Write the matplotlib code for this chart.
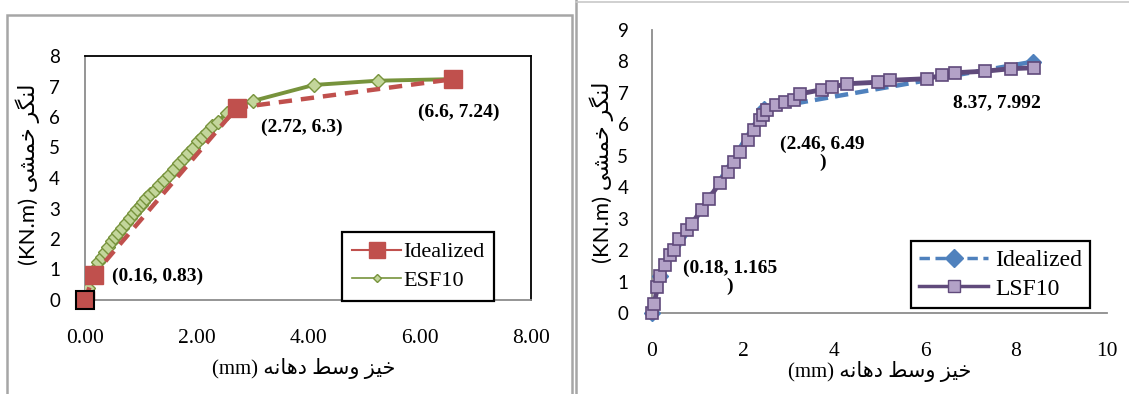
from matplotlib import pyplot as plt, ticker
from matplotlib.lines import Line2D
from matplotlib.patches import Rectangle
import numpy as np

# left chart: ESF10
ESF_IDEAL_X = [0, 0.16, 2.72, 6.6]
ESF_IDEAL_Y = [0, 0.83, 6.3, 7.24]
ESF10_X = [0, 0.06, 0.12, 0.18, 0.24, 0.30, 0.36, 0.42, 0.48, 0.54, 0.60, 0.67,
           0.74, 0.80, 0.87, 0.94, 1.00, 1.04, 1.10, 1.17, 1.26, 1.33, 1.41, 1.50,
           1.59, 1.68, 1.77, 1.85, 1.93, 2.03, 2.10, 2.18, 2.28, 2.39, 2.54, 2.70,
           3.02, 4.10, 5.25, 6.55]
ESF10_Y = [0, 0.38, 0.75, 1.02, 1.26, 1.42, 1.58, 1.75, 1.92, 2.05, 2.20, 2.35,
           2.52, 2.70, 2.84, 2.98, 3.10, 3.22, 3.35, 3.47, 3.61, 3.76, 3.93, 4.10,
           4.30, 4.48, 4.65, 4.82, 4.98, 5.20, 5.36, 5.52, 5.70, 5.85, 6.14, 6.35,
           6.53, 7.05, 7.19, 7.24]
ESF_LABELS = ['(0.16, 0.83)', '(2.72, 6.3)', '(6.6, 7.24)']
ESF_LABEL_OFFSETS = [(46, -1.5), (47, -14), (4.5, -24)]

# right chart: LSF10
LSF_IDEAL_X = [0, 0.18, 2.46, 8.37]
LSF_IDEAL_Y = [0, 1.165, 6.49, 7.992]
LSF10_X = [0, 0.05, 0.12, 0.18, 0.29, 0.40, 0.49, 0.59, 0.76, 0.87, 1.09, 1.25,
           1.49, 1.66, 1.80, 1.93, 2.12, 2.24, 2.37, 2.45, 2.52, 2.73, 2.92, 3.11,
           3.25, 3.73, 3.95, 4.28, 4.97, 5.23, 6.04, 6.37, 6.66, 7.32, 7.89, 8.40]
LSF10_Y = [0, 0.29, 0.84, 1.17, 1.52, 1.84, 2.00, 2.34, 2.63, 2.83, 3.29, 3.64,
           4.14, 4.49, 4.79, 5.12, 5.49, 5.81, 6.13, 6.29, 6.44, 6.60, 6.71, 6.78,
           6.97, 7.10, 7.18, 7.29, 7.34, 7.40, 7.45, 7.56, 7.64, 7.69, 7.77, 7.80]
LSF_LABELS = ['(0.18, 1.165\n)', '(2.46, 6.49\n)', '8.37, 7.992']
LSF_LABEL_OFFSETS = [(50, -1), (42, -32), (-26, -29.5)]

# Persian labels written in visual order with presentation forms
XLABEL = '(mm) \uFEEA\uFEE7\uFE8E\uFEEB\uFEA9 \uFEC2\uFEB3\uFEED \uFEB0\uFEF4\uFEA7'
YLABEL = '(KN.m) \uFEF0\uFEB8\uFEE4\uFEA7 \uFEAE\uFB95\uFEE8\uFEDF'

SANS = ['Lato', 'DejaVu Sans']
SERIF = ['Liberation Serif', 'DejaVu Sans']


def style_axes(ax, xmax, ymax, step):
    '''Common axis look: grey axis lines, no tick marks'''
    ax.set_xlim(0, xmax)
    ax.set_ylim(0, ymax)
    ax.xaxis.set_major_locator(ticker.MultipleLocator(step))
    ax.yaxis.set_major_locator(ticker.MultipleLocator(1))
    ax.tick_params(length=0)
    for lab in ax.get_yticklabels():
        lab.set_fontfamily(SANS)
        lab.set_fontsize(13.5)
    for lab in ax.get_xticklabels():
        lab.set_fontfamily(SERIF)
        lab.set_fontsize(15.5)
    for side in ('left', 'bottom'):
        ax.spines[side].set_color('#8c8c8c')
        ax.spines[side].set_linewidth(1.3)


def set_labels(ax, xpos, ypos):
    ax.set_xlabel(XLABEL, fontsize=15, family=SERIF)
    ax.set_ylabel(YLABEL, fontsize=16, family=SANS)
    ax.xaxis.set_label_coords(*xpos)
    ax.yaxis.set_label_coords(*ypos)
    ax.xaxis.label.set_va('center')
    ax.yaxis.label.set_va('center')


def annotate(ax, xs, ys, labels, offsets):
    for x, y, text, off in zip(xs[1:], ys[1:], labels, offsets):
        ax.annotate(text, (x, y), xytext=off, textcoords='offset points',
                    ha='center', va='center', fontsize=14, fontweight='bold',
                    family='Liberation Serif', linespacing=1.05)


def plot_left(fig):
    ax = fig.add_axes([85 / 1129, 1 - 300 / 394, 446 / 1129, 244 / 394])
    ax.plot(ESF10_X, ESF10_Y, color='#77933C', lw=2.8, marker='D', ms=7,
            mfc='#C3D69B', mec='#77933C', mew=1.0, zorder=3)
    ax.plot(ESF_IDEAL_X, ESF_IDEAL_Y, color='#C0504D', lw=3.2, ls=(0, (3, 2)),
            marker='s', ms=12.5, mfc='#C0504D', mec='#C0504D', zorder=4)
    ax.plot(ESF_IDEAL_X[:1], ESF_IDEAL_Y[:1], ls='none', marker='s', ms=12.5,
            mfc='#C0504D', mec='black', mew=1.5, zorder=5, clip_on=False)
    style_axes(ax, 8, 8, 2)
    ax.xaxis.set_major_formatter(ticker.FormatStrFormatter('%.2f'))
    for side in ('top', 'right'):
        ax.spines[side].set_color('black')
        ax.spines[side].set_linewidth(1.3)
    ax.tick_params(axis='y', pad=18)
    ax.tick_params(axis='x', pad=21)
    set_labels(ax, (0.49, -0.279), (-0.128, 0.516))
    annotate(ax, ESF_IDEAL_X, ESF_IDEAL_Y, ESF_LABELS, ESF_LABEL_OFFSETS)

    handles = [
        Line2D([], [], color='#C0504D', lw=1.5, marker='s', ms=11,
               mfc='#C0504D', mec='#C0504D'),
        Line2D([], [], color='#77933C', lw=1.2, marker='D', ms=4,
               mfc='#C3D69B', mec='#77933C'),
    ]
    leg = ax.legend(handles, ['Idealized', 'ESF10'], loc='upper right',
                    bbox_to_anchor=(0.918, 0.279), borderaxespad=0,
                    prop={'family': 'Liberation Serif', 'size': 16},
                    handlelength=2.2, handletextpad=0.1, labelspacing=0.35,
                    borderpad=0.45, fancybox=False, framealpha=1)
    leg.get_frame().set_edgecolor('black')
    leg.get_frame().set_linewidth(1.6)
    leg.set_zorder(6)


def plot_right(fig):
    ax = fig.add_axes([652 / 1129, 1 - 313 / 394, 455 / 1129, 283 / 394])
    ax.plot(LSF_IDEAL_X, LSF_IDEAL_Y, color='#4F81BD', lw=3.2, ls=(0, (3, 1.6)),
            marker='D', ms=8.5, mfc='#4F81BD', mec='#4F81BD', zorder=3,
            clip_on=False)
    ax.plot(LSF10_X, LSF10_Y, color='#604A7B', lw=3.5, marker='s', ms=8,
            mfc='#B3A2C7', mec='#604A7B', mew=1.2, zorder=4, clip_on=False)
    style_axes(ax, 10, 9, 2)
    for side in ('top', 'right'):
        ax.spines[side].set_visible(False)
    ax.tick_params(axis='y', pad=17)
    ax.tick_params(axis='x', pad=21)
    set_labels(ax, (0.5, -0.208), (-0.110, 0.498))
    annotate(ax, LSF_IDEAL_X, LSF_IDEAL_Y, LSF_LABELS, LSF_LABEL_OFFSETS)

    handles = [
        Line2D([], [], color='#4F81BD', lw=2.5, ls=(0, (3, 1.6)), marker='D',
               ms=9, mfc='#4F81BD', mec='#4F81BD'),
        Line2D([], [], color='#604A7B', lw=2.5, marker='s', ms=9,
               mfc='#B3A2C7', mec='#604A7B'),
    ]
    leg = ax.legend(handles, ['Idealized', 'LSF10'], loc='upper right',
                    bbox_to_anchor=(0.963, 0.254), borderaxespad=0,
                    prop={'family': 'Liberation Serif', 'size': 17},
                    handlelength=2.9, handletextpad=0.3, labelspacing=0.3,
                    borderpad=0.35, fancybox=False, framealpha=1)
    leg.get_frame().set_edgecolor('black')
    leg.get_frame().set_linewidth(1.6)
    leg.set_zorder(6)


def draw_frames(fig):
    '''Grey borders around the two panels'''
    W, H = 1129, 394
    fig.add_artist(Rectangle((7 / W, -0.05), (572 - 7) / W, (H - 15) / H + 0.05,
                             transform=fig.transFigure, fill=False,
                             edgecolor='#a6a6a6', lw=1.8))
    fig.add_artist(Line2D([576 / W, 576 / W], [0, 1], transform=fig.transFigure,
                          color='#a6a6a6', lw=1.8))
    fig.add_artist(Line2D([576 / W, 1], [1 - 2 / H, 1 - 2 / H],
                          transform=fig.transFigure, color='#c8c8c8', lw=1.2))


def main():
    fig = plt.figure(figsize=(11.29, 3.94), dpi=100)
    draw_frames(fig)
    plot_left(fig)
    plot_right(fig)
    fig.savefig('out.png', dpi=100)


if __name__ == '__main__':
    main()
